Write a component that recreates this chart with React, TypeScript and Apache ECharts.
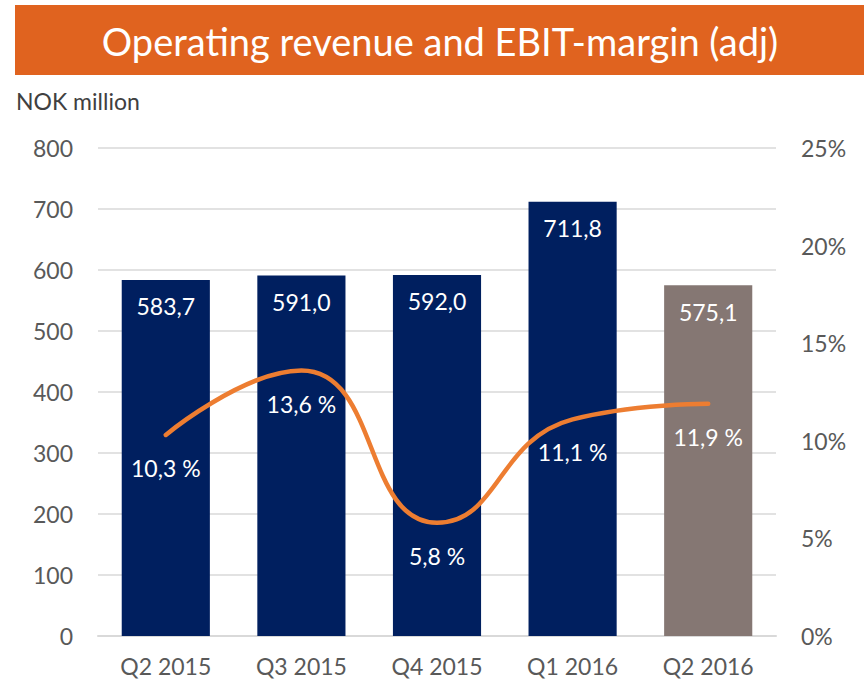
import React, { useEffect, useRef } from "react";
import * as echarts from "echarts";

const categories = ["Q2 2015", "Q3 2015", "Q4 2015", "Q1 2016", "Q2 2016"];
const revenue = [583.7, 591.0, 592.0, 711.8, 575.1];
const margin = [10.3, 13.6, 5.8, 11.1, 11.9];
const barColors = ["#001F5F", "#001F5F", "#001F5F", "#001F5F", "#857773"];
const titleText = "Operating revenue and EBIT-margin (adj)";
const unitText = "NOK million";

const FONT = "Lato, 'Open Sans', sans-serif";

export default function App() {
  const ref = useRef<HTMLDivElement>(null);
  useEffect(() => {
    if (!ref.current) return;
    const chart = echarts.init(ref.current, null, { renderer: "svg" });
    chart.setOption({
      animation: false,
      textStyle: { fontFamily: FONT },
      graphic: [
        {
          type: "rect",
          shape: { x: 15, y: 5, width: 849, height: 70 },
          style: { fill: "#E0631F" },
        },
        {
          type: "text",
          x: 440,
          y: 41,
          style: {
            text: titleText,
            fill: "#FFFFFF",
            font: `38px ${FONT}`,
            align: "center",
            verticalAlign: "middle",
          },
        },
        {
          type: "text",
          x: 16,
          y: 101,
          style: {
            text: unitText,
            fill: "#404040",
            font: `23px ${FONT}`,
            align: "left",
            verticalAlign: "middle",
          },
        },
      ],
      grid: { left: 98, right: 88, top: 148, bottom: 45 },
      xAxis: {
        type: "category",
        data: categories,
        axisTick: { show: false },
        axisLine: { lineStyle: { color: "#D9D9D9", width: 2 } },
        axisLabel: { color: "#595959", fontSize: 23, margin: 18, fontFamily: FONT },
      },
      yAxis: [
        {
          type: "value",
          min: 0,
          max: 800,
          interval: 100,
          axisLine: { show: false },
          axisTick: { show: false },
          splitLine: { lineStyle: { color: "#D9D9D9", width: 1.5 } },
          axisLabel: { color: "#595959", fontSize: 23, margin: 25, fontFamily: FONT },
        },
        {
          type: "value",
          min: 0,
          max: 25,
          interval: 5,
          axisLine: { show: false },
          axisTick: { show: false },
          splitLine: { show: false },
          axisLabel: {
            color: "#595959",
            fontSize: 23,
            margin: 25,
            fontFamily: FONT,
            formatter: (v: number) => `${v}%`,
          },
        },
      ],
      series: [
        {
          type: "bar",
          data: revenue.map((v, i) => ({ value: v, itemStyle: { color: barColors[i] } })),
          barWidth: "65%",
          label: {
            show: true,
            position: "insideTop",
            distance: 15,
            color: "#FFFFFF",
            fontSize: 23,
            fontFamily: FONT,
            formatter: (p: any) => p.value.toFixed(1).replace(".", ","),
          },
        },
        {
          type: "line",
          yAxisIndex: 1,
          data: margin,
          smooth: 0.5,
          symbol: "circle",
          symbolSize: 1,
          showSymbol: true,
          itemStyle: { color: "#ED7D31" },
          lineStyle: { color: "#ED7D31", width: 4.5, cap: "round" },
          label: {
            show: true,
            position: "bottom",
            distance: 21,
            color: "#FFFFFF",
            fontSize: 23,
            fontFamily: FONT,
            formatter: (p: any) => p.value.toFixed(1).replace(".", ",") + " %",
          },
        },
      ],
    });
    return () => chart.dispose();
  }, []);
  return (
    <div
      ref={ref}
      style={{ position: "fixed", left: 0, top: 0, width: 864, height: 681, background: "#FFFFFF" }}
    />
  );
}
